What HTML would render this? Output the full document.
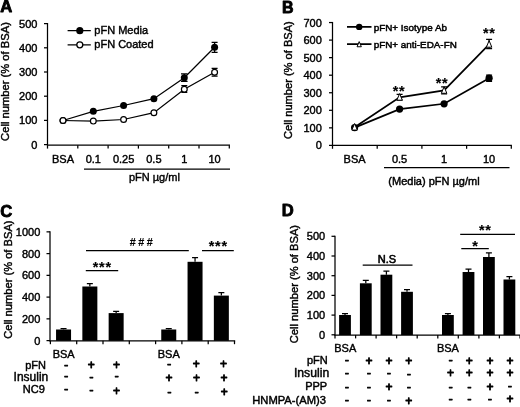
<!DOCTYPE html>
<html><head><meta charset="utf-8"><title>Figure</title>
<style>
html,body{margin:0;padding:0;background:#fff;}
svg{display:block;font-family:"Liberation Sans",Arial,sans-serif;fill:#000;}
text{stroke:#000;stroke-width:0.42;stroke-linejoin:round}
.ax{stroke:#000;stroke-width:1.25;fill:none}
.ln{stroke:#000;stroke-width:1.25;fill:none}
.lb{stroke:#000;stroke-width:1.7;fill:none}
.m{text-anchor:middle}
.e{text-anchor:end}
.b{font-weight:bold}
</style></head><body>
<svg width="520" height="407" viewBox="0 0 520 407">
<defs><filter id="soft" x="0" y="0" width="100%" height="100%" filterUnits="userSpaceOnUse" color-interpolation-filters="sRGB"><feGaussianBlur stdDeviation="0.38"/></filter></defs>
<rect width="520" height="407" fill="#fff"/>
<g filter="url(#soft)">

<text x="0.2" y="12.3" font-size="16.6" class="b" style="stroke-width:0.85">A</text>
<text class="m" transform="translate(9.0 81.5) rotate(-90)" font-size="11.2">Cell number (% of BSA)</text>
<path class="ax" d="M47.5 23.00V145.20"/>
<path class="ax" d="M44.0 144.60H47.5"/>
<text class="e" x="37.4" y="148.56" font-size="11">0</text>
<path class="ax" d="M44.0 120.40H47.5"/>
<text class="e" x="37.4" y="124.36" font-size="11">100</text>
<path class="ax" d="M44.0 96.20H47.5"/>
<text class="e" x="37.4" y="100.16" font-size="11">200</text>
<path class="ax" d="M44.0 72.00H47.5"/>
<text class="e" x="37.4" y="75.96" font-size="11">300</text>
<path class="ax" d="M44.0 47.80H47.5"/>
<text class="e" x="37.4" y="51.76" font-size="11">400</text>
<path class="ax" d="M44.0 23.60H47.5"/>
<text class="e" x="37.4" y="27.56" font-size="11">500</text>
<path class="ax" d="M46.9 145.2H230"/>
<path class="ax" d="M47.5 145.2v3.4"/>
<path class="ax" d="M77.8 145.2v3.4"/>
<path class="ax" d="M108.1 145.2v3.4"/>
<path class="ax" d="M138.4 145.2v3.4"/>
<path class="ax" d="M168.7 145.2v3.4"/>
<path class="ax" d="M199.0 145.2v3.4"/>
<path class="ax" d="M229.3 145.2v3.4"/>
<text class="m" x="63" y="162.6" font-size="11">BSA</text>
<text class="m" x="93.3" y="162.6" font-size="11">0.1</text>
<text class="m" x="123.6" y="162.6" font-size="11">0.25</text>
<text class="m" x="153.9" y="162.6" font-size="11">0.5</text>
<text class="m" x="184.3" y="162.6" font-size="11">1</text>
<text class="m" x="214.6" y="162.6" font-size="11">10</text>
<path class="ax" d="M84 169H230"/>
<text class="m" x="154.4" y="181.4" font-size="11">pFN µg/ml</text>
<path class="ln" d="M63 120.5 L93.3 121.1 L123.6 119.5 L153.9 112.7 L184.3 89.2 L214.6 72.3"/>
<path class="ln" d="M63 120.5 L93.3 111.3 L123.6 105.5 L153.9 98.7 L184.3 77.8 L214.6 47.3"/>
<path class="ax" d="M214.6 42.3V52.3M211.6 42.3h6M211.6 52.3h6"/>
<path class="ax" d="M184.3 73.89999999999999V81.3M181.0 73.89999999999999h6.6M181.0 81.3h6.6"/>
<path class="ax" d="M214.6 68.39999999999999V76.2M211.6 68.39999999999999h6M211.6 76.2h6"/>
<path class="ax" d="M184.3 85.7V92.3M181.3 85.7h6M181.3 92.3h6"/>
<circle cx="63" cy="120.5" r="3.5"/>
<circle cx="93.3" cy="111.3" r="3.5"/>
<circle cx="123.6" cy="105.5" r="3.5"/>
<circle cx="153.9" cy="98.7" r="3.5"/>
<circle cx="184.3" cy="77.8" r="3.5"/>
<circle cx="214.6" cy="47.3" r="3.5"/>
<circle cx="63" cy="120.5" r="2.9" fill="#fff" stroke="#000" stroke-width="1.2"/>
<circle cx="93.3" cy="121.1" r="2.9" fill="#fff" stroke="#000" stroke-width="1.2"/>
<circle cx="123.6" cy="119.5" r="2.9" fill="#fff" stroke="#000" stroke-width="1.2"/>
<circle cx="153.9" cy="112.7" r="2.9" fill="#fff" stroke="#000" stroke-width="1.2"/>
<circle cx="184.3" cy="89.2" r="2.9" fill="#fff" stroke="#000" stroke-width="1.2"/>
<circle cx="214.6" cy="72.3" r="2.9" fill="#fff" stroke="#000" stroke-width="1.2"/>
<path class="ax" stroke-width="1.1" d="M67.6 30.7H90.8M67.6 44.8H90.8"/>
<circle cx="79.8" cy="30.7" r="3.6"/>
<circle cx="79.8" cy="44.8" r="3" fill="#fff" stroke="#000" stroke-width="1.3"/>
<text x="94.3" y="34.3" font-size="11">pFN Media</text>
<text x="94.3" y="48.2" font-size="11">pFN Coated</text>
<text x="282" y="12.8" font-size="16" class="b" style="stroke-width:0.85">B</text>
<text class="m" transform="translate(291.9 80.1) rotate(-90)" font-size="11.1">Cell number (% of BSA)</text>
<path class="ax" d="M332.5 21.95V146.00"/>
<path class="ax" d="M329.0 145.40H332.5"/>
<text class="e" x="321.8" y="149.36" font-size="11">0</text>
<path class="ax" d="M329.0 127.85H332.5"/>
<text class="e" x="321.8" y="131.81" font-size="11">100</text>
<path class="ax" d="M329.0 110.30H332.5"/>
<text class="e" x="321.8" y="114.26" font-size="11">200</text>
<path class="ax" d="M329.0 92.75H332.5"/>
<text class="e" x="321.8" y="96.71" font-size="11">300</text>
<path class="ax" d="M329.0 75.20H332.5"/>
<text class="e" x="321.8" y="79.16" font-size="11">400</text>
<path class="ax" d="M329.0 57.65H332.5"/>
<text class="e" x="321.8" y="61.61" font-size="11">500</text>
<path class="ax" d="M329.0 40.10H332.5"/>
<text class="e" x="321.8" y="44.06" font-size="11">600</text>
<path class="ax" d="M329.0 22.55H332.5"/>
<text class="e" x="321.8" y="26.51" font-size="11">700</text>
<path class="ax" d="M331.9 145.4H511.9"/>
<path class="ax" d="M332.5 145.4v3.4"/>
<path class="ax" d="M377.2 145.4v3.4"/>
<path class="ax" d="M421.9 145.4v3.4"/>
<path class="ax" d="M466.6 145.4v3.4"/>
<path class="ax" d="M511.3 145.4v3.4"/>
<text class="m" x="354.6" y="162.8" font-size="11">BSA</text>
<text class="m" x="399.6" y="162.8" font-size="11">0.5</text>
<text class="m" x="444.1" y="162.8" font-size="11">1</text>
<text class="m" x="489.1" y="162.8" font-size="11">10</text>
<path class="ax" d="M384 167.7H509.5"/>
<text class="m" x="434" y="184.7" font-size="11" style="stroke-width:0.45">(Media) pFN µg/ml</text>
<path class="lb" d="M354.6 127.6 L399.6 109.1 L444.1 103.8 L489.1 78.2"/>
<path class="lb" d="M354.6 127.2 L399.6 97.3 L444.1 90.4 L489.1 44.3"/>
<path class="ax" d="M489.1 39.3V48.7M486.1 39.3h6M486.1 48.7h6"/>
<path class="ax" d="M399.6 94.39999999999999V100.2M396.6 94.39999999999999h6M396.6 100.2h6"/>
<path class="ax" d="M444.1 86.9V93.9M441.1 86.9h6M441.1 93.9h6"/>
<path class="ax" d="M489.1 75.0V81.4M486.1 75.0h6M486.1 81.4h6"/>
<circle cx="354.6" cy="127.6" r="3.6"/>
<circle cx="399.6" cy="109.1" r="3.6"/>
<circle cx="444.1" cy="103.8" r="3.6"/>
<circle cx="489.1" cy="78.2" r="3.6"/>
<path d="M354.6 123.50L357.34 130.09H351.86Z" fill="#fff" stroke="#000" stroke-width="1"/>
<path d="M399.6 93.60L402.34 100.19H396.86Z" fill="#fff" stroke="#000" stroke-width="1"/>
<path d="M444.1 86.70L446.84 93.29H441.36Z" fill="#fff" stroke="#000" stroke-width="1"/>
<path d="M489.1 40.60L491.84 47.19H486.36Z" fill="#fff" stroke="#000" stroke-width="1"/>
<text class="m b" x="399.10" y="95.75" font-size="14.4" letter-spacing="0.7" style="stroke-width:0.15">**</text>
<text class="m b" x="442.05" y="87.85" font-size="14.4" letter-spacing="0.7" style="stroke-width:0.15">**</text>
<text class="m b" x="489.35" y="38.10" font-size="14.4" letter-spacing="0.7" style="stroke-width:0.15">**</text>
<path class="lb" stroke-width="1.5" d="M347 26.9H371.5M347 44.2H371.5"/>
<circle cx="359.2" cy="26.9" r="3.2"/>
<path d="M359.2 41.60L361.35 46.76H357.05Z" fill="#fff" stroke="#000" stroke-width="1"/>
<text x="373.7" y="30.6" font-size="9.9" style="stroke-width:0.5">pFN+ Isotype Ab</text>
<text x="373.7" y="47.7" font-size="9.9" style="stroke-width:0.5">pFN+ anti-EDA-FN</text>
<text x="0.2" y="216.6" font-size="16.6" class="b" style="stroke-width:0.85">C</text>
<text class="m" transform="translate(12.1 279.6) rotate(-90)" font-size="11.15">Cell number (% of BSA)</text>
<path class="ax" d="M50 231.25V341.20"/>
<path class="ax" d="M46.5 340.60H50"/>
<text class="e" x="40.3" y="344.56" font-size="11">0</text>
<path class="ax" d="M46.5 318.85H50"/>
<text class="e" x="40.3" y="322.81" font-size="11">200</text>
<path class="ax" d="M46.5 297.10H50"/>
<text class="e" x="40.3" y="301.06" font-size="11">400</text>
<path class="ax" d="M46.5 275.35H50"/>
<text class="e" x="40.3" y="279.31" font-size="11">600</text>
<path class="ax" d="M46.5 253.60H50"/>
<text class="e" x="40.3" y="257.56" font-size="11">800</text>
<path class="ax" d="M46.5 231.85H50"/>
<text class="e" x="40.3" y="235.81" font-size="11">1000</text>
<path class="ax" stroke-width="1.5" d="M49.4 340.8H235.2"/>
<path class="ax" d="M50.4 340.8v3.4"/>
<path class="ax" d="M76.7 340.8v3.4"/>
<path class="ax" d="M103.0 340.8v3.4"/>
<path class="ax" d="M129.3 340.8v3.4"/>
<path class="ax" d="M155.6 340.8v3.4"/>
<path class="ax" d="M181.9 340.8v3.4"/>
<path class="ax" d="M208.2 340.8v3.4"/>
<path class="ax" d="M234.5 340.8v3.4"/>
<rect x="56.05" y="329.5" width="15" height="11.30"/>
<path class="ax" d="M63.55 329.5V328.7M60.55 328.7h6"/>
<rect x="82.35" y="286.5" width="15" height="54.30"/>
<path class="ax" d="M89.85 286.5V283.5M86.85 283.5h6"/>
<rect x="108.65" y="313.1" width="15" height="27.70"/>
<path class="ax" d="M116.15 313.1V311.40000000000003M113.15 311.40000000000003h6"/>
<rect x="161.25" y="329.5" width="15" height="11.30"/>
<path class="ax" d="M168.75 329.5V328.7M165.75 328.7h6"/>
<rect x="187.55" y="261.8" width="15" height="79.00"/>
<path class="ax" d="M195.05 261.8V257.5M192.05 257.5h6"/>
<rect x="213.85" y="295.6" width="15" height="45.20"/>
<path class="ax" d="M221.35 295.6V292.5M218.35 292.5h6"/>
<path class="ln" d="M86 250.6H188.8M85.8 270.7H118.2M202 250.6H233.8"/>
<text class="m b" x="142.4" y="246.4" font-size="10.8" letter-spacing="2.5" style="stroke-width:0.1">###</text>
<text class="m b" x="102.25" y="271.50" font-size="14.4" letter-spacing="0.7" style="stroke-width:0.15">***</text>
<text class="m b" x="218.25" y="251.35" font-size="14.4" letter-spacing="0.7" style="stroke-width:0.15">***</text>
<text class="m" x="63.7" y="358.2" font-size="11">BSA</text>
<text class="m" x="168.75" y="358.2" font-size="11">BSA</text>
<text class="e" x="46" y="369" font-size="11" style="stroke-width:0.45">pFN</text>
<text class="e" x="48.3" y="380.9" font-size="12" style="stroke-width:0.45">Insulin</text>
<text class="e" x="44.8" y="392.8" font-size="11" style="stroke-width:0.45">NC9</text>
<text class="m" x="66.2" y="369.47" font-size="13" style="stroke-width:0.65">-</text>
<text class="m" x="91.2" y="368.60" font-size="12" style="stroke-width:0.85">+</text>
<text class="m" x="116.6" y="368.60" font-size="12" style="stroke-width:0.85">+</text>
<text class="m" x="169.1" y="367.97" font-size="13" style="stroke-width:0.65">-</text>
<text class="m" x="196.2" y="367.70" font-size="12" style="stroke-width:0.85">+</text>
<text class="m" x="223.6" y="367.70" font-size="12" style="stroke-width:0.85">+</text>
<text class="m" x="66.2" y="380.37" font-size="13" style="stroke-width:0.65">-</text>
<text class="m" x="91.4" y="380.87" font-size="13" style="stroke-width:0.65">-</text>
<text class="m" x="116.6" y="380.37" font-size="13" style="stroke-width:0.65">-</text>
<text class="m" x="169.1" y="381.60" font-size="12" style="stroke-width:0.85">+</text>
<text class="m" x="196.5" y="381.60" font-size="12" style="stroke-width:0.85">+</text>
<text class="m" x="223.9" y="381.60" font-size="12" style="stroke-width:0.85">+</text>
<text class="m" x="66.2" y="393.07" font-size="13" style="stroke-width:0.65">-</text>
<text class="m" x="91.4" y="394.07" font-size="13" style="stroke-width:0.65">-</text>
<text class="m" x="116.5" y="394.70" font-size="12" style="stroke-width:0.85">+</text>
<text class="m" x="169.3" y="395.77" font-size="13" style="stroke-width:0.65">-</text>
<text class="m" x="196.7" y="395.77" font-size="13" style="stroke-width:0.65">-</text>
<text class="m" x="224.3" y="395.60" font-size="12" style="stroke-width:0.85">+</text>
<text x="281.7" y="216.2" font-size="16.6" class="b" style="stroke-width:0.85">D</text>
<text class="m" transform="translate(298 284.1) rotate(-90)" font-size="11.15">Cell number (% of BSA)</text>
<path class="ax" d="M335 235.70V335.40"/>
<path class="ax" d="M331.5 334.80H335"/>
<text class="e" x="325.2" y="338.76" font-size="11">0</text>
<path class="ax" d="M331.5 315.10H335"/>
<text class="e" x="325.2" y="319.06" font-size="11">100</text>
<path class="ax" d="M331.5 295.40H335"/>
<text class="e" x="325.2" y="299.36" font-size="11">200</text>
<path class="ax" d="M331.5 275.70H335"/>
<text class="e" x="325.2" y="279.66" font-size="11">300</text>
<path class="ax" d="M331.5 256.00H335"/>
<text class="e" x="325.2" y="259.96" font-size="11">400</text>
<path class="ax" d="M331.5 236.30H335"/>
<text class="e" x="325.2" y="240.26" font-size="11">500</text>
<path class="ax" stroke-width="1.5" d="M334.4 335H520"/>
<path class="ax" d="M335.0 335v3.4"/>
<path class="ax" d="M355.6 335v3.4"/>
<path class="ax" d="M376.1 335v3.4"/>
<path class="ax" d="M396.6 335v3.4"/>
<path class="ax" d="M417.2 335v3.4"/>
<path class="ax" d="M437.8 335v3.4"/>
<path class="ax" d="M458.3 335v3.4"/>
<path class="ax" d="M478.9 335v3.4"/>
<path class="ax" d="M499.4 335v3.4"/>
<path class="ax" d="M520.0 335v3.4"/>
<rect x="339.1" y="315" width="11.8" height="20.00"/>
<path class="ax" d="M345.0 315V313.7M342.0 313.7h6"/>
<rect x="359.90000000000003" y="283.3" width="11.8" height="51.70"/>
<path class="ax" d="M365.8 283.3V280.3M362.8 280.3h6"/>
<rect x="380.5" y="274.7" width="11.8" height="60.30"/>
<path class="ax" d="M386.4 274.7V271.09999999999997M383.4 271.09999999999997h6"/>
<rect x="401.1" y="291.8" width="11.8" height="43.20"/>
<path class="ax" d="M407.0 291.8V289.6M404.0 289.6h6"/>
<rect x="442.0" y="315" width="11.8" height="20.00"/>
<path class="ax" d="M447.9 315V313.7M444.9 313.7h6"/>
<rect x="462.6" y="272" width="11.8" height="63.00"/>
<path class="ax" d="M468.5 272V269M465.5 269h6"/>
<rect x="483.0" y="257" width="11.8" height="78.00"/>
<path class="ax" d="M488.9 257V252.8M485.9 252.8h6"/>
<rect x="503.5" y="279.5" width="11.8" height="55.50"/>
<path class="ax" d="M509.4 279.5V276.5M506.4 276.5h6"/>
<path class="ln" d="M362.7 265H412.5M461.3 248.6H488.8M460.2 234.3H515"/>
<text class="m" x="386.9" y="262.7" font-size="11" style="stroke-width:0.6">N.S</text>
<text class="m b" x="475.35" y="250.65" font-size="14.4" letter-spacing="0.7" style="stroke-width:0.15">*</text>
<text class="m b" x="485.35" y="234.55" font-size="14.4" letter-spacing="0.7" style="stroke-width:0.15">**</text>
<text class="m" x="345.3" y="352.1" font-size="11">BSA</text>
<text class="m" x="447.9" y="352.1" font-size="11">BSA</text>
<text class="e" x="327.7" y="363.9" font-size="11" style="stroke-width:0.45">pFN</text>
<text class="e" x="329.2" y="377" font-size="12.2" style="stroke-width:0.45">Insulin</text>
<text class="e" x="327.2" y="390.1" font-size="11" style="stroke-width:0.45">PPP</text>
<text class="e" x="326" y="404.2" font-size="11.2" style="stroke-width:0.45">HNMPA-(AM)3</text>
<text class="m" x="346.8" y="364.37" font-size="13" style="stroke-width:0.65">-</text>
<text class="m" x="369" y="364.50" font-size="12" style="stroke-width:0.85">+</text>
<text class="m" x="389" y="364.50" font-size="12" style="stroke-width:0.85">+</text>
<text class="m" x="408.8" y="364.50" font-size="12" style="stroke-width:0.85">+</text>
<text class="m" x="450.6" y="364.37" font-size="13" style="stroke-width:0.65">-</text>
<text class="m" x="469.3" y="364.50" font-size="12" style="stroke-width:0.85">+</text>
<text class="m" x="489.9" y="364.50" font-size="12" style="stroke-width:0.85">+</text>
<text class="m" x="510.0" y="364.50" font-size="12" style="stroke-width:0.85">+</text>
<text class="m" x="346.8" y="376.87" font-size="13" style="stroke-width:0.65">-</text>
<text class="m" x="369" y="376.87" font-size="13" style="stroke-width:0.65">-</text>
<text class="m" x="389" y="376.87" font-size="13" style="stroke-width:0.65">-</text>
<text class="m" x="408.8" y="377.87" font-size="13" style="stroke-width:0.65">-</text>
<text class="m" x="450.6" y="376.80" font-size="12" style="stroke-width:0.85">+</text>
<text class="m" x="469.3" y="376.80" font-size="12" style="stroke-width:0.85">+</text>
<text class="m" x="489.9" y="376.80" font-size="12" style="stroke-width:0.85">+</text>
<text class="m" x="510.0" y="376.80" font-size="12" style="stroke-width:0.85">+</text>
<text class="m" x="346.8" y="390.77" font-size="13" style="stroke-width:0.65">-</text>
<text class="m" x="369" y="390.77" font-size="13" style="stroke-width:0.65">-</text>
<text class="m" x="389" y="391.20" font-size="12" style="stroke-width:0.85">+</text>
<text class="m" x="408.8" y="390.77" font-size="13" style="stroke-width:0.65">-</text>
<text class="m" x="450.6" y="390.77" font-size="13" style="stroke-width:0.65">-</text>
<text class="m" x="469.3" y="390.77" font-size="13" style="stroke-width:0.65">-</text>
<text class="m" x="489.9" y="391.20" font-size="12" style="stroke-width:0.85">+</text>
<text class="m" x="510.0" y="390.07" font-size="13" style="stroke-width:0.65">-</text>
<text class="m" x="346.8" y="403.87" font-size="13" style="stroke-width:0.65">-</text>
<text class="m" x="369" y="403.87" font-size="13" style="stroke-width:0.65">-</text>
<text class="m" x="389" y="403.87" font-size="13" style="stroke-width:0.65">-</text>
<text class="m" x="408.8" y="405.00" font-size="12" style="stroke-width:0.85">+</text>
<text class="m" x="450.6" y="403.37" font-size="13" style="stroke-width:0.65">-</text>
<text class="m" x="469.3" y="403.37" font-size="13" style="stroke-width:0.65">-</text>
<text class="m" x="489.9" y="403.17" font-size="13" style="stroke-width:0.65">-</text>
<text class="m" x="510.0" y="403.30" font-size="12" style="stroke-width:0.85">+</text>
</g></svg></body></html>
